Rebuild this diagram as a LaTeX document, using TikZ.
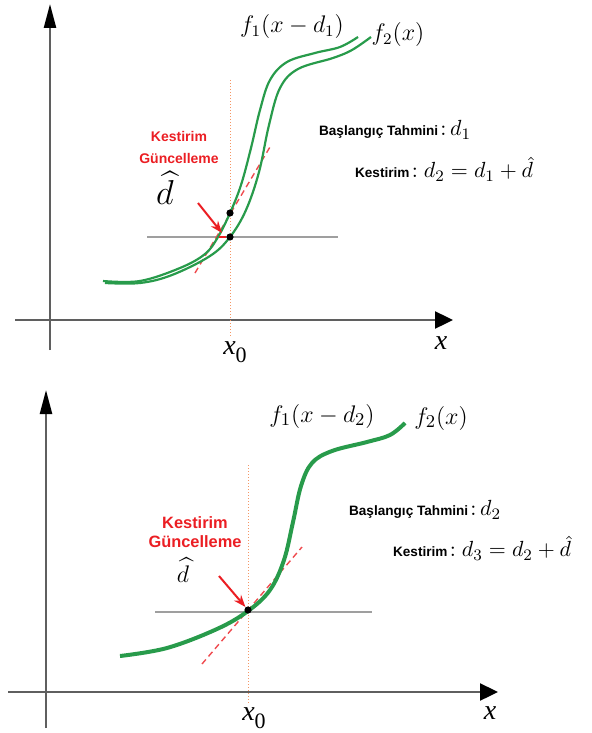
\documentclass[tikz,border=0pt]{standalone}
\usepackage{amsmath,amssymb}
\usepackage{fontspec}
\setsansfont{Liberation Sans}
\newfontfamily\axisfont{Liberation Serif}
\usepackage{tikz}
\usetikzlibrary{positioning}
\usetikzlibrary{arrows.meta}
\usetikzlibrary{calc}
\definecolor{curvegreen}{RGB}{40,155,75}
\definecolor{estred}{RGB}{235,30,35}
\definecolor{guideorange}{RGB}{245,150,100}
\definecolor{axisgray}{RGB}{95,95,95}
\newcommand{\lbl}[1]{{\sffamily\bfseries #1}}
\newcommand{\axlbl}[1]{{\axisfont\fontsize{14}{16}\selectfont\itshape #1}}
\newcommand{\xzero}{\axlbl{x}\raisebox{-4pt}{\axisfont\fontsize{11}{12}\selectfont 0}}
\newcommand{\eqpart}[1]{{\fontsize{11.3}{13}\selectfont$#1$}}

\begin{document}
\begin{tikzpicture}[>=stealth,x=0.5pt,y=-0.5pt,
  axis/.style={line width=1.2pt,axisgray},
  yhead/.style={-{Triangle[length=12pt,width=6pt,black]}},
  xhead/.style={-{Triangle[length=9pt,width=8.5pt,black]}},
  guide/.style={guideorange,line width=0.5pt,densely dotted},
  level/.style={gray!75,line width=0.8pt},
  tangent/.style={estred!80,line width=0.7pt,dash pattern=on 3pt off 2pt},
  fcurve/.style={curvegreen,line width=1.1pt},
  fcurvebold/.style={curvegreen,line width=2pt},
  dot/.style={circle,fill=black,inner sep=0pt,minimum size=3.6pt},
  mathlbl/.style={font=\fontsize{12}{14}\selectfont},
  info/.style={anchor=west,font=\fontsize{6.8}{8}\selectfont},
  update/.style={align=center,text=estred,font=\fontsize{7}{11}\selectfont},
  hatlbl/.style={font=\fontsize{16}{18}\selectfont},
  pointer/.style={estred,line width=1pt,-{Stealth[length=6pt,width=4.5pt]}}]
  \useasboundingbox (0,0) rectangle (592,733);

  % ---------- upper panel ----------
  % axes
  \coordinate (tyb) at (50,350);
  \coordinate (tyt) at (50,4);
  \coordinate (txl) at (15,320);
  \coordinate (txr) at (453,320);
  \draw[axis,yhead] (tyb) -- (tyt);
  \draw[axis,xhead] (txl) -- (txr);
  \node (txlab) at (441,343) {\axlbl{x}};
  \node (tx0) at (235,352) {\xzero};
  % x_0 guide and level line
  \coordinate (tgtop) at (230,80);
  \coordinate (tgbot) at (230,338);
  \draw[guide] (tgtop) -- (tgbot);
  \coordinate (tll) at (147,237);
  \coordinate (tlr) at (338,237);
  \draw[level] (tll) -- (tlr);
  % tangent of f1 at x_0
  \coordinate (ttana) at (195,273);
  \coordinate (ttanb) at (270,147);
  \draw[tangent] (ttana) -- (ttanb);
  % curves f1(x-d1) and f2(x)
  \draw[fcurve] plot[smooth,tension=0.6] coordinates {(103,281) (140,281) (180,268) (205,254)
    (218,237) (230,213) (241,185) (251,148) (260,110) (270,80) (287,62) (315,53) (340,47) (358,37)};
  \draw[fcurve] plot[smooth,tension=0.6] coordinates {(105,283) (140,283) (172,275) (210,256)
    (230,237) (246,210) (259,172) (269,125) (280,88) (298,69) (333,58) (352,50) (371,37)};
  \node (tf1) at (292,27) [mathlbl] {$f_1(x-d_1)$};
  \node (tf2) at (398,35) [mathlbl] {$f_2(x)$};
  % update
  \node (tcross) at (218,237) [inner sep=0pt] {};
  \node (tdot2) at (230,237) [dot] {};
  \node (tdot1) at (230,213) [dot] {};
  \draw[estred,line width=1.3pt] (tcross) -- (tdot2);
  \node (tupd) at (179,147) [update] {\lbl{Kestirim}\\\lbl{Güncelleme}};
  \node (tdhat) at (165,188) [hatlbl] {$\widehat{d}$};
  \coordinate (tptr) at (198,203);
  \coordinate (ttip) at (222,233);
  \draw[pointer] (tptr) -- (ttip);
  % estimates
  \node (tguess) at (312,130) [info] {\lbl{Başlangıç Tahmini}\,\eqpart{{:}\,d_1}};
  \node (test) at (348,169) [info] {\lbl{Kestirim}\,\eqpart{{:}\;d_2=d_1+\hat{d}}};

  % ---------- lower panel ----------
  % axes
  \coordinate (byb) at (46,728);
  \coordinate (byt) at (46,390);
  \coordinate (bxl) at (8,692);
  \coordinate (bxr) at (498,692);
  \draw[axis,yhead] (byb) -- (byt);
  \draw[axis,xhead] (bxl) -- (bxr);
  \node (bxlab) at (490,713) {\axlbl{x}};
  \node (bx0) at (254,718) {\xzero};
  % x_0 guide and level line
  \coordinate (bgtop) at (248,465);
  \coordinate (bgbot) at (248,704);
  \draw[guide] (bgtop) -- (bgbot);
  \coordinate (bll) at (155,612);
  \coordinate (blr) at (372,612);
  \draw[level] (bll) -- (blr);
  % tangent at x_0
  \coordinate (btana) at (202,664);
  \coordinate (btanb) at (302,547);
  \draw[tangent] (btana) -- (btanb);
  % curve f1(x-d2) = f2(x)
  \draw[fcurvebold] plot[smooth,tension=0.6] coordinates {(120,656) (167,648) (217,629) (248,611)
    (270,590) (284,560) (293,522) (301,486) (312,463) (332,451) (367,442) (390,435) (405,423)};
  \node (bf1) at (322,416) [mathlbl,font=\fontsize{13}{15}\selectfont] {$f_1(x-d_2)$};
  \node (bf2) at (441,418) [mathlbl,font=\fontsize{13}{15}\selectfont] {$f_2(x)$};
  % update
  \node (bdot) at (248,610) [dot] {};
  \node (bupd) at (195,532) [update,font=\fontsize{8.2}{9.5}\selectfont] {\lbl{Kestirim}\\\lbl{Güncelleme}};
  \node (bdhat) at (183,570) [hatlbl,font=\fontsize{13}{15}\selectfont] {$\widehat{d}$};
  \coordinate (bptr) at (219,576);
  \draw[pointer] (bptr) -- (bdot);
  % estimates
  \node (bguess) at (342,510) [info] {\lbl{Başlangıç Tahmini}\,\eqpart{{:}\,d_2}};
  \node (best) at (386,548) [info] {\lbl{Kestirim}\,\eqpart{{:}\;d_3=d_2+\hat{d}}};
\end{tikzpicture}
\end{document}
